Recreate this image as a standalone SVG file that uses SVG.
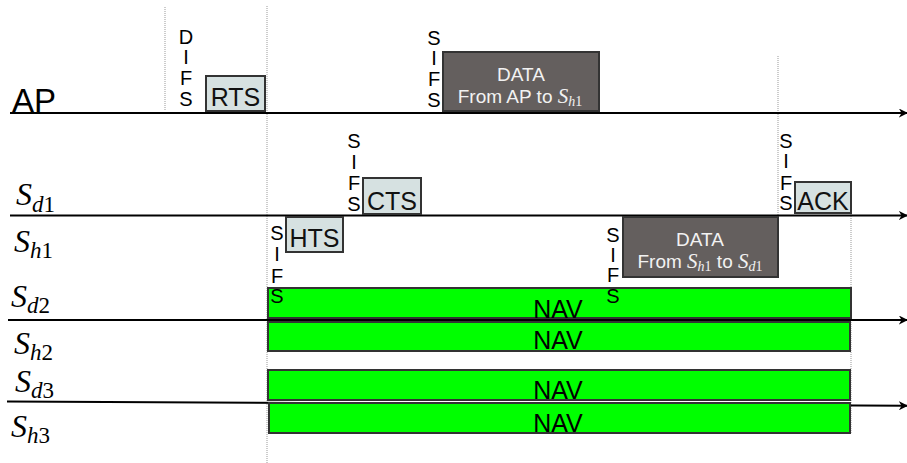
<svg xmlns="http://www.w3.org/2000/svg" width="907" height="463" viewBox="0 0 907 463">
<defs>
<marker id="arr" viewBox="0 0 10 10" refX="9" refY="5" markerWidth="9" markerHeight="9" markerUnits="userSpaceOnUse" orient="auto">
<path d="M0,0 L10,5 L0,10 L3,5 Z" fill="#000"/>
</marker>
<style>
.tl{stroke:#000;stroke-width:2;fill:none;marker-end:url(#arr)}
.vd{stroke:#999;stroke-width:1;stroke-dasharray:1,1;fill:none}
.lt{fill:#d6e1e1;stroke:#333;stroke-width:2}
.dk{fill:#645f5e;stroke:#333;stroke-width:2}
.nav{fill:#00ff00;stroke:#333;stroke-width:2}
.sans{font-family:"Liberation Sans",Arial,sans-serif}
.ifs{font-family:"Liberation Sans",Arial,sans-serif;font-size:20px;fill:#000;text-anchor:middle}
.bt{font-family:"Liberation Sans",Arial,sans-serif;font-size:25px;fill:#111;text-anchor:middle}
.wt{font-family:"Liberation Sans",Arial,sans-serif;font-size:19px;fill:#f2f2f2;text-anchor:middle}
.mi{font-family:"Liberation Serif","Times New Roman",serif;font-style:italic}
.lab{font-family:"Liberation Serif","Times New Roman",serif;font-size:32px;fill:#000}
.navt{font-family:"Liberation Sans",Arial,sans-serif;font-size:25px;fill:#000;text-anchor:middle}
</style>
</defs>
<rect width="907" height="463" fill="#fff"/>

<g id="guides">
<line class="vd" x1="165" y1="7" x2="165" y2="110"/>
<line class="vd" x1="267" y1="6" x2="267" y2="463"/>
<line class="vd" x1="778" y1="56" x2="778" y2="216"/>
<line class="vd" x1="851" y1="214" x2="851" y2="434"/>
</g>

<g id="connectors">
<line class="tl" x1="10" y1="113" x2="907" y2="113"/>
<line class="tl" x1="10" y1="215.5" x2="907" y2="215.5"/>
<line class="tl" x1="8" y1="320" x2="907" y2="320"/>
<line class="tl" x1="7" y1="401.5" x2="907" y2="405.8"/>
</g>

<g id="labels">
<text class="sans" x="12" y="112" font-size="33px" fill="#000">AP</text>
<text class="lab" x="16" y="205"><tspan class="mi">S</tspan><tspan font-size="23px" dy="7"><tspan class="mi">d</tspan>1</tspan></text>
<text class="lab" x="14" y="252"><tspan class="mi">S</tspan><tspan font-size="23px" dy="6"><tspan class="mi">h</tspan>1</tspan></text>
<text class="lab" x="11" y="307"><tspan class="mi">S</tspan><tspan font-size="23px" dy="6"><tspan class="mi">d</tspan>2</tspan></text>
<text class="lab" x="14" y="354"><tspan class="mi">S</tspan><tspan font-size="23px" dy="6"><tspan class="mi">h</tspan>2</tspan></text>
<text class="lab" x="15" y="392"><tspan class="mi">S</tspan><tspan font-size="23px" dy="6"><tspan class="mi">d</tspan>3</tspan></text>
<text class="lab" x="11" y="437"><tspan class="mi">S</tspan><tspan font-size="23px" dy="6"><tspan class="mi">h</tspan>3</tspan></text>
</g>

<g id="nav1">
<rect class="nav" x="268" y="288" width="583" height="30"/>
<text class="navt" x="558" y="318">NAV</text>
</g>
<g id="nav2">
<rect class="nav" x="268" y="322" width="582" height="29"/>
<text class="navt" x="558" y="349">NAV</text>
</g>
<g id="nav3">
<rect class="nav" x="268" y="370" width="582" height="30"/>
<text class="navt" x="558" y="399">NAV</text>
</g>
<g id="nav4">
<rect class="nav" x="269" y="403" width="581" height="30"/>
<text class="navt" x="558" y="432">NAV</text>
</g>

<g id="difs">
<text class="ifs"><tspan x="186" y="44">D</tspan><tspan x="186" y="64">I</tspan><tspan x="186" y="85">F</tspan><tspan x="186" y="106">S</tspan></text>
</g>
<g id="rts">
<rect class="lt" x="206" y="76" width="59" height="35"/>
<text class="bt" x="235.5" y="106">RTS</text>
</g>

<g id="sifs-ap">
<text class="ifs"><tspan x="434" y="45">S</tspan><tspan x="434" y="65">I</tspan><tspan x="434" y="86">F</tspan><tspan x="434" y="107">S</tspan></text>
</g>
<g id="data-ap">
<rect class="dk" x="443" y="52" width="156" height="59"/>
<text class="wt" x="521" y="81" font-size="18px">DATA</text>
<text class="wt" x="520" y="103">From AP to <tspan class="mi" font-size="21px">S</tspan><tspan class="mi" font-size="14px" dy="3">h</tspan><tspan font-family="Liberation Serif, serif" font-size="14px">1</tspan></text>
</g>

<g id="sifs-cts">
<text class="ifs"><tspan x="354" y="148">S</tspan><tspan x="354" y="169">I</tspan><tspan x="354" y="190">F</tspan><tspan x="354" y="211">S</tspan></text>
</g>
<g id="cts">
<rect class="lt" x="363" y="178" width="58" height="36"/>
<text class="bt" x="392" y="210">CTS</text>
</g>

<g id="hts">
<rect class="lt" x="286" y="217" width="57" height="35"/>
<text class="bt" x="314.5" y="246.5">HTS</text>
</g>

<g id="data-sh1">
<rect class="dk" x="623" y="217" width="155" height="60"/>
<text class="wt" x="700" y="246" font-size="18px">DATA</text>
<text class="wt" x="700" y="268">From <tspan class="mi" font-size="21px">S</tspan><tspan class="mi" font-size="14px" dy="3">h</tspan><tspan font-family="Liberation Serif, serif" font-size="14px">1</tspan><tspan dy="-3"> to </tspan><tspan class="mi" font-size="21px">S</tspan><tspan class="mi" font-size="14px" dy="3">d</tspan><tspan font-family="Liberation Serif, serif" font-size="14px">1</tspan></text>
</g>

<g id="sifs-ack">
<text class="ifs"><tspan x="786" y="148">S</tspan><tspan x="786" y="168">I</tspan><tspan x="786" y="190">F</tspan><tspan x="786" y="210">S</tspan></text>
</g>
<g id="ack">
<rect class="lt" x="795" y="182" width="56" height="31"/>
<text class="bt" x="823" y="210">ACK</text>
</g>

<g id="sifs-hts">
<text class="ifs"><tspan x="277" y="240">S</tspan><tspan x="277" y="261">I</tspan><tspan x="277" y="283">F</tspan><tspan x="277" y="303">S</tspan></text>
</g>
<g id="sifs-data2">
<text class="ifs"><tspan x="613" y="242">S</tspan><tspan x="613" y="262">I</tspan><tspan x="613" y="282">F</tspan><tspan x="613" y="303">S</tspan></text>
</g>
</svg>
